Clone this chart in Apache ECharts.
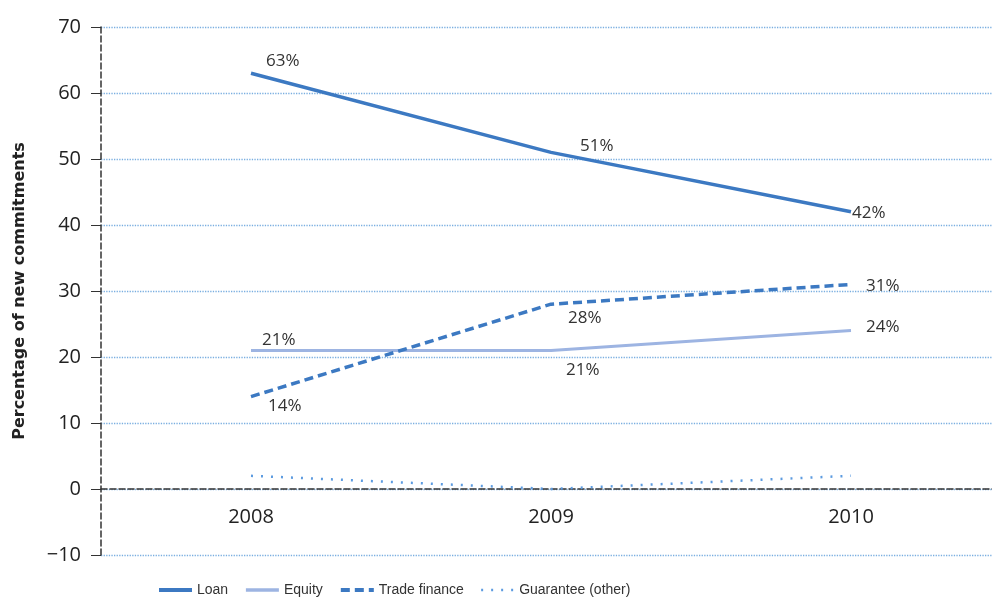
<!DOCTYPE html>
<html><head><meta charset="utf-8">
<script src="https://cdn.jsdelivr.net/npm/echarts@6/dist/echarts.min.js"></script>
<style>html,body{margin:0;padding:0;background:#fff}#c{width:992px;height:599px}</style>
</head><body><div id="c"></div>
<script>
const categories = ['2008', '2009', '2010'];
const loan = [63, 51, 42];
const equity = [21, 21, 24];
const tradeFinance = [14, 28, 31];
const guarantee = [2, 0, 2];
const yTicks = [-10, 0, 10, 20, 30, 40, 50, 60, 70];

const chart = echarts.init(document.getElementById('c'));
const font = 'Open Sans, DejaVu Sans, sans-serif';
function lbl(dx, dy) {
  return {show: true, position: 'right', offset: [dx, dy], formatter: '{c}%', color: '#333', fontSize: 17, fontFamily: font};
}
const sym = {symbol: 'circle', symbolSize: 0.01, showSymbol: true};
chart.setOption({
  animation: false,
  grid: {left: 101, top: 27, width: 900, bottom: 44, containLabel: false, outerBoundsMode: 'none'},
  legend: {
    top: 583, left: 157, padding: 0, itemWidth: 33, itemHeight: 6, itemGap: 16,
    itemStyle: {opacity: 0},
    textStyle: {fontFamily: 'Liberation Sans Narrow, Liberation Sans, sans-serif', fontSize: 14, color: '#333'},
    data: [
      {name: 'Loan', lineStyle: {width: 4}},
      {name: 'Equity', lineStyle: {width: 3.5}},
      {name: 'Trade finance', lineStyle: {width: 4}},
      {name: 'Guarantee (other)', lineStyle: {width: 2.5}}
    ]
  },
  xAxis: {
    type: 'category', data: categories, boundaryGap: true,
    offset: -66,
    axisLine: {onZero: false, lineStyle: {color: '#333', type: 'dashed', width: 1.5}},
    axisTick: {show: false},
    axisLabel: {fontFamily: font, fontSize: 20, color: '#222', margin: 18}
  },
  yAxis: {
    type: 'value', min: -10, max: 70, interval: 10,
    name: 'Percentage of new commitments', nameLocation: 'middle', nameGap: 73,
    nameTextStyle: {fontFamily: 'DejaVu Sans, sans-serif', fontSize: 16, fontWeight: 'bold', color: '#222'},
    axisLine: {show: true, lineStyle: {color: '#333', type: 'dashed', width: 1.5}},
    axisTick: {show: true, length: 10, lineStyle: {color: '#333'}},
    axisLabel: {fontFamily: font, fontSize: 20, color: '#222', margin: 20,
      formatter: v => yTicks.includes(v) ? (v < 0 ? '\u2212' + Math.abs(v) : String(v)) : ''},
    splitLine: {show: true, lineStyle: {color: '#7aaee0', type: 'dotted', width: 1.3}}
  },
  series: [
    Object.assign({name: 'Loan', type: 'line', color: '#3c79c2',
     lineStyle: {width: 3.5, color: '#3c79c2'},
     data: loan.map((v, i) => ({value: v, label: [lbl(10, -12), lbl(24, -6), lbl(-4, 1)][i]}))}, sym),
    Object.assign({name: 'Equity', type: 'line', color: '#9db4e2',
     lineStyle: {width: 3, color: '#9db4e2'},
     data: equity.map((v, i) => ({value: v, label: [lbl(6, -10), lbl(10, 20), lbl(10, -3)][i]}))}, sym),
    Object.assign({name: 'Trade finance', type: 'line', color: '#3c79c2',
     lineStyle: {width: 3.5, type: [9, 5], color: '#3c79c2'},
     data: tradeFinance.map((v, i) => ({value: v, label: [lbl(12, 10), lbl(12, 14), lbl(10, 2)][i]}))}, sym),
    Object.assign({name: 'Guarantee (other)', type: 'line', color: '#5c9be0',
     lineStyle: {width: 2.5, type: [2, 8], color: '#5c9be0'},
     data: guarantee}, sym)
  ]
});
</script></body></html>
